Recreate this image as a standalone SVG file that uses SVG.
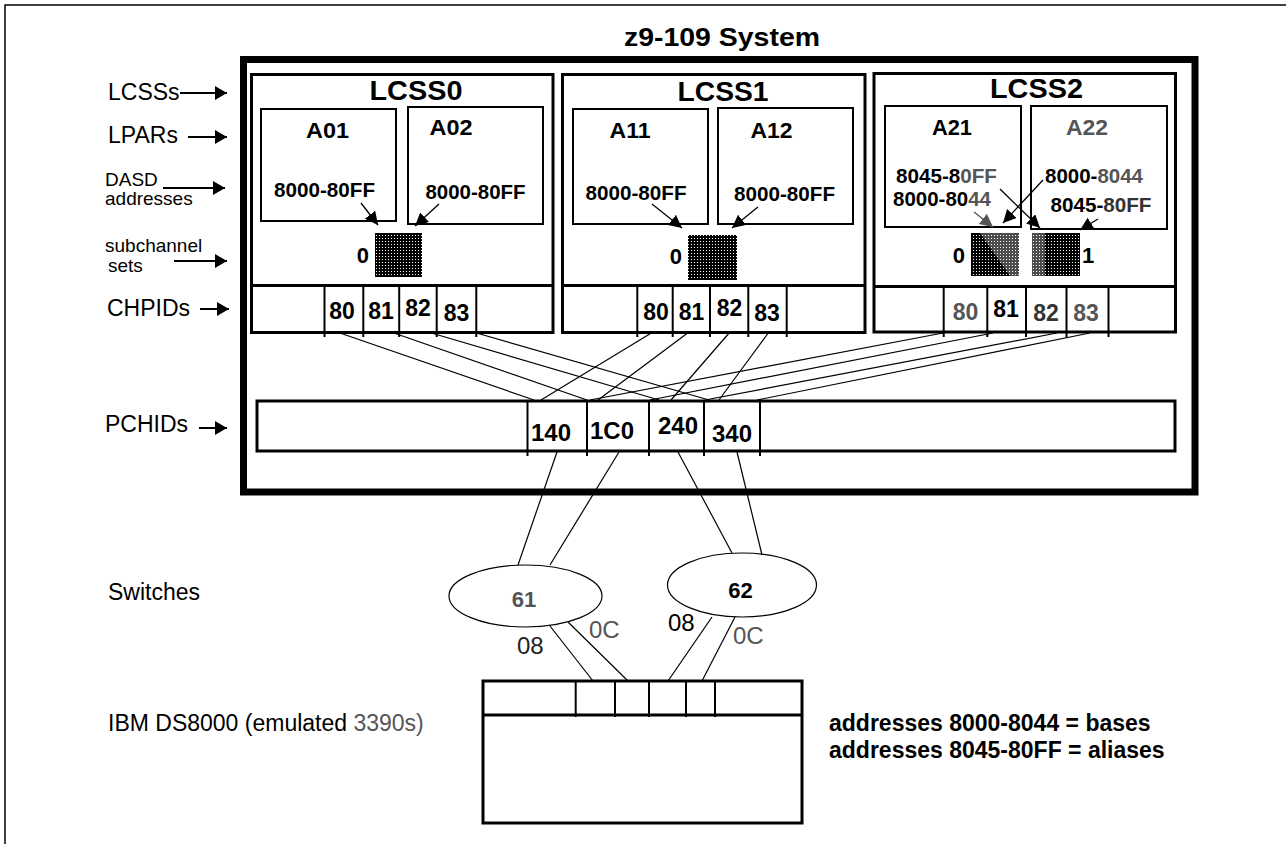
<svg xmlns="http://www.w3.org/2000/svg" width="1286" height="844" viewBox="0 0 1286 844">
<style>
text{font-family:"Liberation Sans",Arial,Helvetica,sans-serif;fill:#000}
.b{font-weight:bold}
.lcss{font-size:27px;font-weight:bold;text-anchor:middle}
.lp{font-size:22px;font-weight:bold;text-anchor:middle}
.ad{font-size:21px;font-weight:bold;text-anchor:middle}
.ch{font-size:23px;font-weight:bold;text-anchor:middle}
.pc{font-size:24px;font-weight:bold;text-anchor:middle}
.lbl{font-size:23px}
.sm{font-size:19px}
.g{fill:#555}
.sys{fill:none;stroke:#000;stroke-width:7}
.grp{fill:none;stroke:#000;stroke-width:3}
.box{fill:none;stroke:#000;stroke-width:2}
.div{stroke:#000;stroke-width:2}
.ln{stroke:#000;stroke-width:1.2;fill:none}
.arr{stroke:#000;stroke-width:2;fill:none;marker-end:url(#ah)}
.arrs{stroke:#000;stroke-width:1.3;fill:none;marker-end:url(#ah2)}
.sq{fill:url(#dots)}
.wm{fill:#fff;opacity:0.3}
</style>
<defs>
<marker id="ah" markerUnits="userSpaceOnUse" markerWidth="13" markerHeight="14" refX="12" refY="7" orient="auto"><path d="M0,0 L12,7 L0,14 z" fill="#000"/></marker>
<marker id="ah2" markerUnits="userSpaceOnUse" markerWidth="14" markerHeight="14" refX="13" refY="6.5" orient="auto"><path d="M0,0 L13,6.5 L0,13 z" fill="#000"/></marker>
<marker id="ah2g" markerUnits="userSpaceOnUse" markerWidth="14" markerHeight="14" refX="13" refY="6.5" orient="auto"><path d="M0,0 L13,6.5 L0,13 z" fill="#555"/></marker>
<pattern id="dots" width="3" height="3" patternUnits="userSpaceOnUse"><rect width="3" height="3" fill="#000"/><rect x="1" y="1" width="1" height="1" fill="#fff"/></pattern>
</defs>

<path d="M5,844 V5 H1286" fill="none" stroke="#000" stroke-width="1.5"/>

<g id="labels">
<text class="lbl" x="108" y="100">LCSSs</text>
<line class="arr" x1="180" y1="93" x2="227" y2="93"/>
<text class="lbl" x="108" y="143" font-size="22">LPARs</text>
<line class="arr" x1="188" y1="137" x2="227" y2="137"/>
<text class="sm" x="105" y="186">DASD</text>
<text class="sm" x="105" y="205">addresses</text>
<line class="arr" x1="163" y1="188" x2="225" y2="188"/>
<text class="sm" x="105" y="252">subchannel</text>
<text class="sm" x="108" y="272">sets</text>
<line class="arr" x1="174" y1="261" x2="227" y2="261"/>
<text class="lbl" x="107" y="316">CHPIDs</text>
<line class="arr" x1="200" y1="309" x2="229" y2="309"/>
<text class="lbl" x="105" y="432">PCHIDs</text>
<line class="arr" x1="199" y1="428" x2="227" y2="428"/>
<text class="lbl" x="108" y="600">Switches</text>
<text class="lbl" x="108" y="731">IBM DS8000 (emulated <tspan class="g">3390s)</tspan></text>
</g>

<g id="system">
<text class="b" x="722" y="46" font-size="26" text-anchor="middle" textLength="196" lengthAdjust="spacingAndGlyphs">z9-109 System</text>
<rect class="sys" x="243.5" y="59.5" width="951.5" height="432.5"/>
</g>

<g id="lcss0">
<rect class="grp" x="251.5" y="74.5" width="301.5" height="258"/>
<line class="grp" x1="251.5" y1="285.5" x2="553" y2="285.5"/>
<text class="lcss" x="416" y="100" textLength="93" lengthAdjust="spacingAndGlyphs">LCSS0</text>
<rect class="box" x="261" y="109" width="135" height="112"/>
<rect class="box" x="408" y="107" width="135" height="117"/>
<text class="lp" x="327.5" y="138" textLength="43" lengthAdjust="spacingAndGlyphs">A01</text>
<text class="lp" x="451" y="135" textLength="43" lengthAdjust="spacingAndGlyphs">A02</text>
<text class="ad" x="324.5" y="197" textLength="101" lengthAdjust="spacingAndGlyphs">8000-80FF</text>
<text class="ad" x="475.5" y="199" textLength="100" lengthAdjust="spacingAndGlyphs">8000-80FF</text>
<line class="arrs" x1="361" y1="203" x2="378" y2="225"/>
<line class="arrs" x1="439" y1="204" x2="415" y2="226"/>
<rect class="sq" x="375" y="233" width="47" height="44"/>
<text class="b" x="369" y="263" font-size="22" text-anchor="end">0</text>
<g class="div"><line x1="324.5" y1="285.5" x2="324.5" y2="337"/><line x1="363.3" y1="285.5" x2="363.3" y2="337"/><line x1="399.2" y1="285.5" x2="399.2" y2="337"/><line x1="436.7" y1="285.5" x2="436.7" y2="337"/><line x1="476.3" y1="285.5" x2="476.3" y2="337"/></g>
<text class="ch" x="342" y="319">80</text>
<text class="ch" x="381" y="319">81</text>
<text class="ch" x="418" y="316">82</text>
<text class="ch" x="456.5" y="321">83</text>
</g>

<g id="lcss1">
<rect class="grp" x="562.5" y="74.5" width="302.5" height="258"/>
<line class="grp" x1="562.5" y1="285.5" x2="865" y2="285.5"/>
<text class="lcss" x="723" y="101" textLength="91" lengthAdjust="spacingAndGlyphs">LCSS1</text>
<rect class="box" x="573" y="109" width="135" height="115"/>
<rect class="box" x="718" y="108" width="135" height="116"/>
<text class="lp" x="630" y="138" textLength="41" lengthAdjust="spacingAndGlyphs">A11</text>
<text class="lp" x="771.5" y="138" textLength="42" lengthAdjust="spacingAndGlyphs">A12</text>
<text class="ad" x="636" y="200" textLength="101" lengthAdjust="spacingAndGlyphs">8000-80FF</text>
<text class="ad" x="784.5" y="201" textLength="101" lengthAdjust="spacingAndGlyphs">8000-80FF</text>
<line class="arrs" x1="652" y1="204" x2="682" y2="228"/>
<line class="arrs" x1="758" y1="207" x2="732" y2="228"/>
<rect class="sq" x="688" y="235" width="49" height="45"/>
<text class="b" x="682" y="264" font-size="22" text-anchor="end">0</text>
<g class="div"><line x1="637.3" y1="285.5" x2="637.3" y2="337"/><line x1="672.7" y1="285.5" x2="672.7" y2="337"/><line x1="710" y1="285.5" x2="710" y2="337"/><line x1="748.3" y1="285.5" x2="748.3" y2="337"/><line x1="786.7" y1="285.5" x2="786.7" y2="337"/></g>
<text class="ch" x="656" y="320">80</text>
<text class="ch" x="691.5" y="320">81</text>
<text class="ch" x="729.5" y="316">82</text>
<text class="ch" x="767" y="321">83</text>
</g>

<g id="lcss2">
<rect class="grp" x="874" y="73.5" width="301.5" height="258.5"/>
<line class="grp" x1="874" y1="286.5" x2="1175.5" y2="286.5"/>
<text class="lcss" x="1036.5" y="98" textLength="93" lengthAdjust="spacingAndGlyphs">LCSS2</text>
<rect class="box" x="885" y="106" width="136" height="121"/>
<rect class="box" x="1031" y="106" width="136" height="123"/>
<text class="lp" x="952" y="135" textLength="40" lengthAdjust="spacingAndGlyphs">A21</text>
<text class="lp g" x="1087" y="135" textLength="42" lengthAdjust="spacingAndGlyphs">A22</text>
<text class="ad" x="946.5" y="183" textLength="101" lengthAdjust="spacingAndGlyphs">8045-8<tspan class="g">0FF</tspan></text>
<text class="ad" x="942" y="206" textLength="98" lengthAdjust="spacingAndGlyphs">8000-80<tspan class="g">44</tspan></text>
<text class="ad" x="1094" y="183" textLength="98" lengthAdjust="spacingAndGlyphs">8000-<tspan class="g">8044</tspan></text>
<text class="ad" x="1101" y="212" textLength="101" lengthAdjust="spacingAndGlyphs">8045-<tspan fill="#333">80FF</tspan></text>
<line x1="974" y1="212" x2="993" y2="227" stroke="#555" stroke-width="1.3" marker-end="url(#ah2g)"/>
<line class="arrs" x1="1043" y1="180" x2="1003" y2="223"/>
<line class="arrs" x1="1000" y1="189" x2="1040" y2="228"/>
<line class="arrs" x1="1098" y1="219" x2="1080" y2="230"/>
<rect class="sq" x="971" y="233" width="48" height="43"/>
<rect class="sq" x="1032" y="233" width="48" height="43"/>
<polygon class="wm" points="980,233 1019,233 1019,276 1010,276"/>
<rect class="wm" x="1032" y="233" width="13" height="43"/>
<text class="b" x="965" y="263" font-size="22" text-anchor="end">0</text>
<text class="b" x="1082" y="263" font-size="22">1</text>
<g class="div"><line x1="943.7" y1="286.5" x2="943.7" y2="337"/><line x1="987.3" y1="286.5" x2="987.3" y2="337"/><line x1="1026" y1="286.5" x2="1026" y2="337"/><line x1="1066.5" y1="286.5" x2="1066.5" y2="337"/><line x1="1108.5" y1="286.5" x2="1108.5" y2="337"/></g>
<text class="ch g" x="965.5" y="320">80</text>
<text class="ch" x="1006" y="317">81</text>
<text class="ch" x="1046" y="321" style="fill:#333">82</text>
<text class="ch g" x="1086" y="321">83</text>
</g>

<g id="pchids">
<rect class="grp" x="257" y="401" width="918" height="50"/>
<g class="div"><line x1="527.5" y1="401" x2="527.5" y2="456"/><line x1="587" y1="401" x2="587" y2="456"/><line x1="649" y1="401" x2="649" y2="456"/><line x1="704" y1="401" x2="704" y2="456"/><line x1="760" y1="401" x2="760" y2="456"/></g>
<text class="pc" x="551" y="441">140</text>
<text class="pc" x="612" y="439">1C0</text>
<text class="pc" x="678" y="434">240</text>
<text class="pc" x="732" y="442">340</text>
</g>

<g id="switch61">
<ellipse cx="525.5" cy="596" rx="76.5" ry="31" fill="none" stroke="#000" stroke-width="1.2"/>
<text class="b g" x="524" y="607" font-size="22" text-anchor="middle">61</text>
</g>
<g id="switch62">
<ellipse cx="742" cy="585" rx="74.5" ry="32" fill="none" stroke="#000" stroke-width="1.2"/>
<text class="b" x="740.5" y="598" font-size="22" text-anchor="middle">62</text>
</g>

<g id="ds8000">
<rect class="grp" x="483" y="681" width="319" height="142"/>
<line class="grp" x1="483" y1="715" x2="802" y2="715"/>
<g class="div"><line x1="575.7" y1="681" x2="575.7" y2="717"/><line x1="615" y1="681" x2="615" y2="717"/><line x1="649" y1="681" x2="649" y2="717"/><line x1="686" y1="681" x2="686" y2="717"/><line x1="715" y1="681" x2="715" y2="717"/></g>
</g>

<g id="legend">
<text class="b" x="829" y="731" font-size="23">addresses 8000-8044 = bases</text>
<text class="b" x="829" y="758" font-size="23">addresses 8045-80FF = aliases</text>
</g>

<g id="connectors">
<line class="ln" x1="337" y1="332" x2="534" y2="400"/>
<line class="ln" x1="391" y1="332" x2="587" y2="400"/>
<line class="ln" x1="428" y1="332" x2="659" y2="400"/>
<line class="ln" x1="473" y1="332" x2="709" y2="400"/>
<line class="ln" x1="653" y1="332" x2="541" y2="400"/>
<line class="ln" x1="689" y1="332" x2="598" y2="400"/>
<line class="ln" x1="730" y1="332" x2="671" y2="400"/>
<line class="ln" x1="769" y1="332" x2="719" y2="400"/>
<line class="ln" x1="943" y1="333" x2="590" y2="400"/>
<line class="ln" x1="993" y1="333" x2="650" y2="400"/>
<line class="ln" x1="1057" y1="333" x2="705" y2="400"/>
<line class="ln" x1="1090" y1="333" x2="757" y2="400"/>
<line class="ln" x1="557" y1="452" x2="518" y2="565"/>
<line class="ln" x1="619" y1="452" x2="550" y2="565"/>
<line class="ln" x1="678" y1="452" x2="732" y2="553"/>
<line class="ln" x1="737" y1="452" x2="762" y2="555"/>
<line class="ln" x1="550" y1="626" x2="593" y2="681"/>
<line class="ln" x1="568" y1="622" x2="628" y2="681"/>
<line class="ln" x1="712" y1="617" x2="668" y2="681"/>
<line class="ln" x1="735" y1="617" x2="702" y2="681"/>
<text x="517" y="654" font-size="24" style="fill:#222">08</text>
<text class="g" x="589" y="638" font-size="24">0C</text>
<text x="668" y="631" font-size="24">08</text>
<text class="g" x="733" y="644" font-size="24">0C</text>
</g>
</svg>
